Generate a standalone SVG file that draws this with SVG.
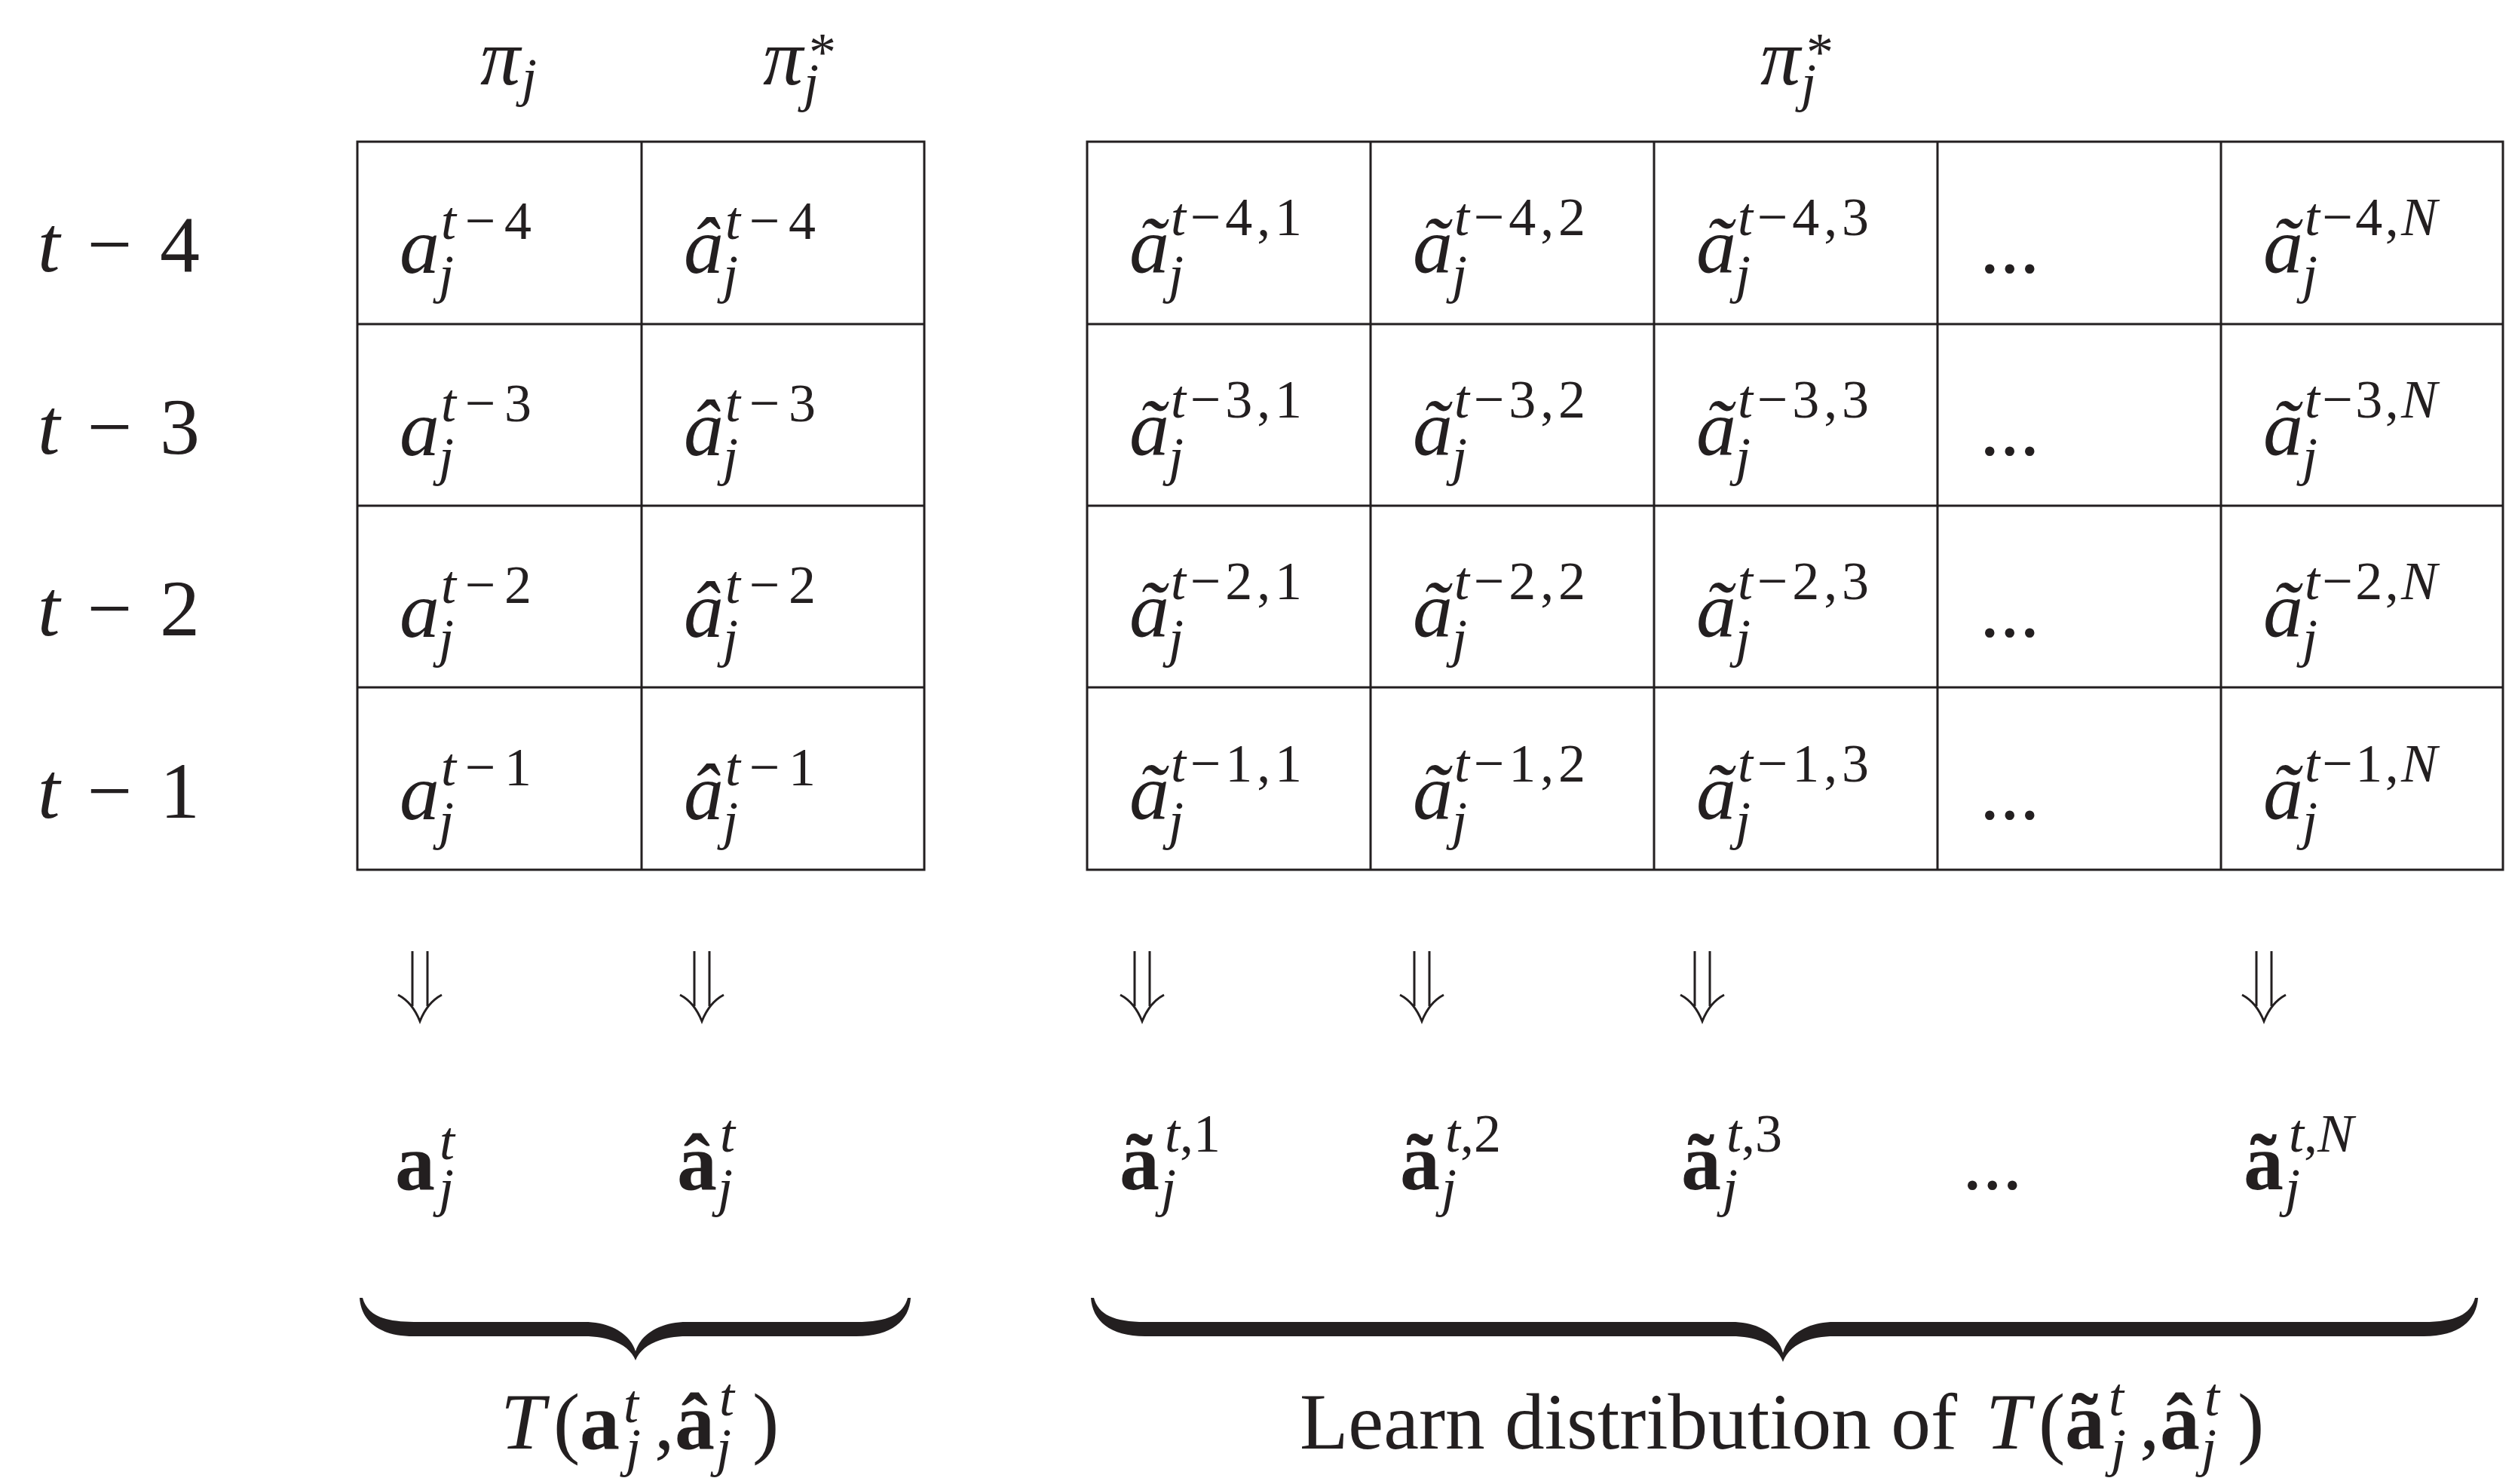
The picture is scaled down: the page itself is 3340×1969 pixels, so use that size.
<svg xmlns="http://www.w3.org/2000/svg" width="3340" height="1969" viewBox="0 0 3340 1969">
<defs>
<style>
text{fill:#231f20;font-family:"Liberation Serif","Times New Roman",serif}
.m{font-size:106px;font-style:italic}
.r{font-size:106px}
.b{font-size:106px;font-weight:bold}
.s{font-size:72px}
.i{font-style:italic}
.grid{fill:none;stroke:#231f20;stroke-width:3}
.arr{fill:none;stroke:#231f20;stroke-width:3;stroke-linecap:butt}
.brace{fill:#231f20;stroke:none}
</style>
<g id="dblarrow">
<path class="arr" d="M-10,0 V73 M10,0 V73 M-29,58 Q-10,68 0,93 Q10,68 29,58"/>
</g>
</defs>
<rect width="3340" height="1969" fill="#ffffff"/>

<g id="headers">
<g id="head-pi">
<text class="m" x="637" y="112">π</text>
<text class="s i" x="692" y="127">j</text>
</g>
<g id="head-pistar">
<text class="m" x="1012" y="112">π</text>
<text class="s" x="1073" y="93">*</text>
<text class="s i" x="1066" y="134">j</text>
</g>
<g id="head-pistar-right">
<text class="m" x="2335" y="112">π</text>
<text class="s" x="2396" y="93">*</text>
<text class="s i" x="2389" y="134">j</text>
</g>
</g>

<g id="row-labels">
<text class="m" x="50" y="360" textLength="215" lengthAdjust="spacing">t<tspan font-style="normal"> − 4</tspan></text>
<text class="m" x="50" y="601.5" textLength="215" lengthAdjust="spacing">t<tspan font-style="normal"> − 3</tspan></text>
<text class="m" x="50" y="843" textLength="215" lengthAdjust="spacing">t<tspan font-style="normal"> − 2</tspan></text>
<text class="m" x="50" y="1084.5" textLength="215" lengthAdjust="spacing">t<tspan font-style="normal"> − 1</tspan></text>
</g>

<g id="table-left">
<rect class="grid" x="474" y="188" width="752" height="966"/>
<path class="grid" d="M851,188 V1154 M474,430 H1226 M474,671 H1226 M474,912 H1226"/>
</g>
<g id="table-right">
<rect class="grid" x="1442" y="188" width="1878" height="966"/>
<path class="grid" d="M1818,188 V1154 M2194,188 V1154 M2570,188 V1154 M2946,188 V1154 M1442,430 H3320 M1442,671 H3320 M1442,912 H3320"/>
</g>

<g id="cells-left">
<g id="c-a-4"><text class="m" x="530" y="362">a</text><text class="s" x="585" y="317" textLength="120" lengthAdjust="spacing"><tspan class="i">t</tspan>−4</text><text class="s i" x="582" y="388">j</text></g>
<g id="c-ah-4"><text class="m" x="907" y="362">â</text><text class="s" x="962" y="317" textLength="120" lengthAdjust="spacing"><tspan class="i">t</tspan>−4</text><text class="s i" x="959" y="388">j</text></g>
<g id="c-a-3"><text class="m" x="530" y="603.5">a</text><text class="s" x="585" y="558.5" textLength="120" lengthAdjust="spacing"><tspan class="i">t</tspan>−3</text><text class="s i" x="582" y="629.5">j</text></g>
<g id="c-ah-3"><text class="m" x="907" y="603.5">â</text><text class="s" x="962" y="558.5" textLength="120" lengthAdjust="spacing"><tspan class="i">t</tspan>−3</text><text class="s i" x="959" y="629.5">j</text></g>
<g id="c-a-2"><text class="m" x="530" y="845">a</text><text class="s" x="585" y="800" textLength="120" lengthAdjust="spacing"><tspan class="i">t</tspan>−2</text><text class="s i" x="582" y="871">j</text></g>
<g id="c-ah-2"><text class="m" x="907" y="845">â</text><text class="s" x="962" y="800" textLength="120" lengthAdjust="spacing"><tspan class="i">t</tspan>−2</text><text class="s i" x="959" y="871">j</text></g>
<g id="c-a-1"><text class="m" x="530" y="1086.5">a</text><text class="s" x="585" y="1041.5" textLength="120" lengthAdjust="spacing"><tspan class="i">t</tspan>−1</text><text class="s i" x="582" y="1112.5">j</text></g>
<g id="c-ah-1"><text class="m" x="907" y="1086.5">â</text><text class="s" x="962" y="1041.5" textLength="120" lengthAdjust="spacing"><tspan class="i">t</tspan>−1</text><text class="s i" x="959" y="1112.5">j</text></g>
</g>

<g id="cells-right">
<g id="c-at-4-1"><text class="m" x="1498" y="362">ã</text><text class="s" x="1553" y="312" textLength="174" lengthAdjust="spacing"><tspan class="i">t</tspan>−4,1</text><text class="s i" x="1550" y="388">j</text></g>
<g id="c-at-4-2"><text class="m" x="1874" y="362">ã</text><text class="s" x="1929" y="312" textLength="174" lengthAdjust="spacing"><tspan class="i">t</tspan>−4,2</text><text class="s i" x="1926" y="388">j</text></g>
<g id="c-at-4-3"><text class="m" x="2250" y="362">ã</text><text class="s" x="2305" y="312" textLength="174" lengthAdjust="spacing"><tspan class="i">t</tspan>−4,3</text><text class="s i" x="2302" y="388">j</text></g>
<g id="c-dots-4"><text class="r" x="2626" y="362">...</text></g>
<g id="c-at-4-N"><text class="m" x="3002" y="362">ã</text><text class="s" x="3057" y="312" textLength="176" lengthAdjust="spacing"><tspan class="i">t</tspan>−4,<tspan class="i">N</tspan></text><text class="s i" x="3054" y="388">j</text></g>
<g id="c-at-3-1"><text class="m" x="1498" y="603.5">ã</text><text class="s" x="1553" y="553.5" textLength="174" lengthAdjust="spacing"><tspan class="i">t</tspan>−3,1</text><text class="s i" x="1550" y="629.5">j</text></g>
<g id="c-at-3-2"><text class="m" x="1874" y="603.5">ã</text><text class="s" x="1929" y="553.5" textLength="174" lengthAdjust="spacing"><tspan class="i">t</tspan>−3,2</text><text class="s i" x="1926" y="629.5">j</text></g>
<g id="c-at-3-3"><text class="m" x="2250" y="603.5">ã</text><text class="s" x="2305" y="553.5" textLength="174" lengthAdjust="spacing"><tspan class="i">t</tspan>−3,3</text><text class="s i" x="2302" y="629.5">j</text></g>
<g id="c-dots-3"><text class="r" x="2626" y="603.5">...</text></g>
<g id="c-at-3-N"><text class="m" x="3002" y="603.5">ã</text><text class="s" x="3057" y="553.5" textLength="176" lengthAdjust="spacing"><tspan class="i">t</tspan>−3,<tspan class="i">N</tspan></text><text class="s i" x="3054" y="629.5">j</text></g>
<g id="c-at-2-1"><text class="m" x="1498" y="845">ã</text><text class="s" x="1553" y="795" textLength="174" lengthAdjust="spacing"><tspan class="i">t</tspan>−2,1</text><text class="s i" x="1550" y="871">j</text></g>
<g id="c-at-2-2"><text class="m" x="1874" y="845">ã</text><text class="s" x="1929" y="795" textLength="174" lengthAdjust="spacing"><tspan class="i">t</tspan>−2,2</text><text class="s i" x="1926" y="871">j</text></g>
<g id="c-at-2-3"><text class="m" x="2250" y="845">ã</text><text class="s" x="2305" y="795" textLength="174" lengthAdjust="spacing"><tspan class="i">t</tspan>−2,3</text><text class="s i" x="2302" y="871">j</text></g>
<g id="c-dots-2"><text class="r" x="2626" y="845">...</text></g>
<g id="c-at-2-N"><text class="m" x="3002" y="845">ã</text><text class="s" x="3057" y="795" textLength="176" lengthAdjust="spacing"><tspan class="i">t</tspan>−2,<tspan class="i">N</tspan></text><text class="s i" x="3054" y="871">j</text></g>
<g id="c-at-1-1"><text class="m" x="1498" y="1086.5">ã</text><text class="s" x="1553" y="1036.5" textLength="174" lengthAdjust="spacing"><tspan class="i">t</tspan>−1,1</text><text class="s i" x="1550" y="1112.5">j</text></g>
<g id="c-at-1-2"><text class="m" x="1874" y="1086.5">ã</text><text class="s" x="1929" y="1036.5" textLength="174" lengthAdjust="spacing"><tspan class="i">t</tspan>−1,2</text><text class="s i" x="1926" y="1112.5">j</text></g>
<g id="c-at-1-3"><text class="m" x="2250" y="1086.5">ã</text><text class="s" x="2305" y="1036.5" textLength="174" lengthAdjust="spacing"><tspan class="i">t</tspan>−1,3</text><text class="s i" x="2302" y="1112.5">j</text></g>
<g id="c-dots-1"><text class="r" x="2626" y="1086.5">...</text></g>
<g id="c-at-1-N"><text class="m" x="3002" y="1086.5">ã</text><text class="s" x="3057" y="1036.5" textLength="176" lengthAdjust="spacing"><tspan class="i">t</tspan>−1,<tspan class="i">N</tspan></text><text class="s i" x="3054" y="1112.5">j</text></g>
</g>

<g id="connectors">
<use href="#dblarrow" x="557" y="1262"/>
<use href="#dblarrow" x="931" y="1262"/>
<use href="#dblarrow" x="1515" y="1262"/>
<use href="#dblarrow" x="1886" y="1262"/>
<use href="#dblarrow" x="2258" y="1262"/>
<use href="#dblarrow" x="3003" y="1262"/>
</g>

<g id="outputs">
<g id="o-a"><text class="b" x="524" y="1578">a</text><text class="s i" x="583" y="1538">t</text><text class="s i" x="582" y="1600">j</text></g>
<g id="o-ah"><text class="b" x="898" y="1578">â</text><text class="s i" x="955" y="1528">t</text><text class="s i" x="952" y="1600">j</text></g>
<g id="o-at1"><text class="b" x="1485" y="1578">ã</text><text class="s" x="1545" y="1528"><tspan class="i">t</tspan>,1</text><text class="s i" x="1540" y="1600">j</text></g>
<g id="o-at2"><text class="b" x="1857" y="1578">ã</text><text class="s" x="1917" y="1528"><tspan class="i">t</tspan>,2</text><text class="s i" x="1912" y="1600">j</text></g>
<g id="o-at3"><text class="b" x="2230" y="1578">ã</text><text class="s" x="2290" y="1528"><tspan class="i">t</tspan>,3</text><text class="s i" x="2285" y="1600">j</text></g>
<g id="o-dots"><text class="r" x="2603" y="1578">...</text></g>
<g id="o-atN"><text class="b" x="2976" y="1578">ã</text><text class="s" x="3036" y="1528"><tspan class="i">t</tspan>,<tspan class="i">N</tspan></text><text class="s i" x="3031" y="1600">j</text></g>
</g>

<g id="braces">
<path id="brace-left" class="brace" d="M477,1722 C479,1752 502,1773 549,1773 L775,1773 C810,1773 835,1785 843,1805 C851,1785 876,1773 911,1773 L1136,1773 C1183,1773 1206,1752 1208,1722 L1204,1722 C1198,1744 1178,1754 1136,1754 L911,1754 C876,1754 850,1770 843,1793 C836,1770 810,1754 775,1754 L549,1754 C507,1754 487,1744 481,1722 Z"/>
<path id="brace-right" class="brace" d="M1447,1722 C1449,1752 1472,1773 1519,1773 L2297,1773 C2332,1773 2357,1785 2365,1807 C2373,1785 2398,1773 2433,1773 L3215,1773 C3262,1773 3285,1752 3287,1722 L3283,1722 C3277,1744 3257,1754 3215,1754 L2433,1754 C2398,1754 2372,1770 2365,1795 C2358,1770 2332,1754 2297,1754 L1519,1754 C1477,1754 1457,1744 1451,1722 Z"/>
</g>

<g id="label-left">
<text class="m" x="664" y="1922">T</text>
<text class="r" x="734" y="1922">(</text>
<text class="b" x="769" y="1922">a</text>
<text class="s i" x="827" y="1887">t</text>
<text class="s i" x="830" y="1945">j</text>
<text class="r" x="868" y="1922">,</text>
<text class="b" x="895" y="1922">â</text>
<text class="s i" x="954" y="1878">t</text>
<text class="s i" x="950" y="1945">j</text>
<text class="r" x="998" y="1922">)</text>
</g>

<g id="label-right">
<text class="r" x="1724" y="1922" textLength="872" lengthAdjust="spacingAndGlyphs">Learn distribution of</text>
<text class="m" x="2634" y="1922">T</text>
<text class="r" x="2704" y="1922">(</text>
<text class="b" x="2739" y="1922">ã</text>
<text class="s i" x="2797" y="1878">t</text>
<text class="s i" x="2800" y="1945">j</text>
<text class="r" x="2838" y="1922">,</text>
<text class="b" x="2865" y="1922">â</text>
<text class="s i" x="2924" y="1878">t</text>
<text class="s i" x="2920" y="1945">j</text>
<text class="r" x="2968" y="1922">)</text>
</g>
</svg>
